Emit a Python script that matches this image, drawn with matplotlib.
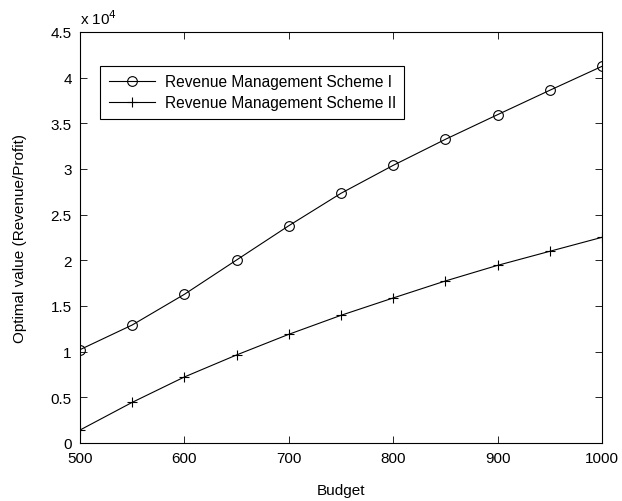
import matplotlib
matplotlib.use("Agg")
import matplotlib.pyplot as plt

budget = [500, 550, 600, 650, 700, 750, 800, 850, 900, 950, 1000]
scheme1 = [10220, 12920, 16280, 20040, 23790, 27340, 30400, 33250, 35950, 38620, 41240]
scheme2 = [1420, 4450, 7230, 9640, 11900, 13980, 15880, 17740, 19450, 20990, 22520]
yticks = [0, 5000, 10000, 15000, 20000, 25000, 30000, 35000, 40000, 45000]
xticks = [500, 600, 700, 800, 900, 1000]

plt.rcParams['font.family'] = ['Liberation Sans', 'DejaVu Sans']

fig = plt.figure(figsize=(6.22, 5.02), dpi=100)
ax = fig.add_axes([80/622, 1-444/502, (602-80)/622, (444-33)/502])

ax.plot(budget, scheme1, color='black', lw=0.8, marker='o', ms=7,
        mfc='none', mec='black', mew=0.8, label='Revenue Management Scheme I')
ax.plot(budget, scheme2, color='black', lw=0.8, marker='+', ms=7.5,
        mew=0.8, label='Revenue Management Scheme II')

ax.set_xlim(500, 1000)
ax.set_ylim(0, 45000)
ax.set_xticks(xticks)
ax.set_xticklabels([str(t) for t in xticks])
ax.set_yticks(yticks)
ax.set_yticklabels(['%g' % (t / 1e4) for t in yticks])
ax.tick_params(direction='in', top=True, right=True, labelsize=11, length=5, width=0.6, pad=6)
for s in ax.spines.values():
    s.set_linewidth(0.8)

ax.set_xlabel('Budget', fontsize=11, labelpad=13)
ax.set_ylabel('Optimal value (Revenue/Profit)', fontsize=11, labelpad=17)
ax.text(0.0, 1.012, r'x 10$^{4}$', transform=ax.transAxes, fontsize=11, ha='left', va='bottom')

leg = ax.legend(loc='upper left', bbox_to_anchor=(20/522, 1-33.7/411), fontsize=11.2,
                frameon=True, fancybox=False, edgecolor='black', framealpha=1,
                handlelength=3.0, borderpad=0.55, labelspacing=0.38, borderaxespad=0,
                handletextpad=0.6)
leg.get_frame().set_linewidth(0.8)

fig.savefig('out.png', dpi=100)
